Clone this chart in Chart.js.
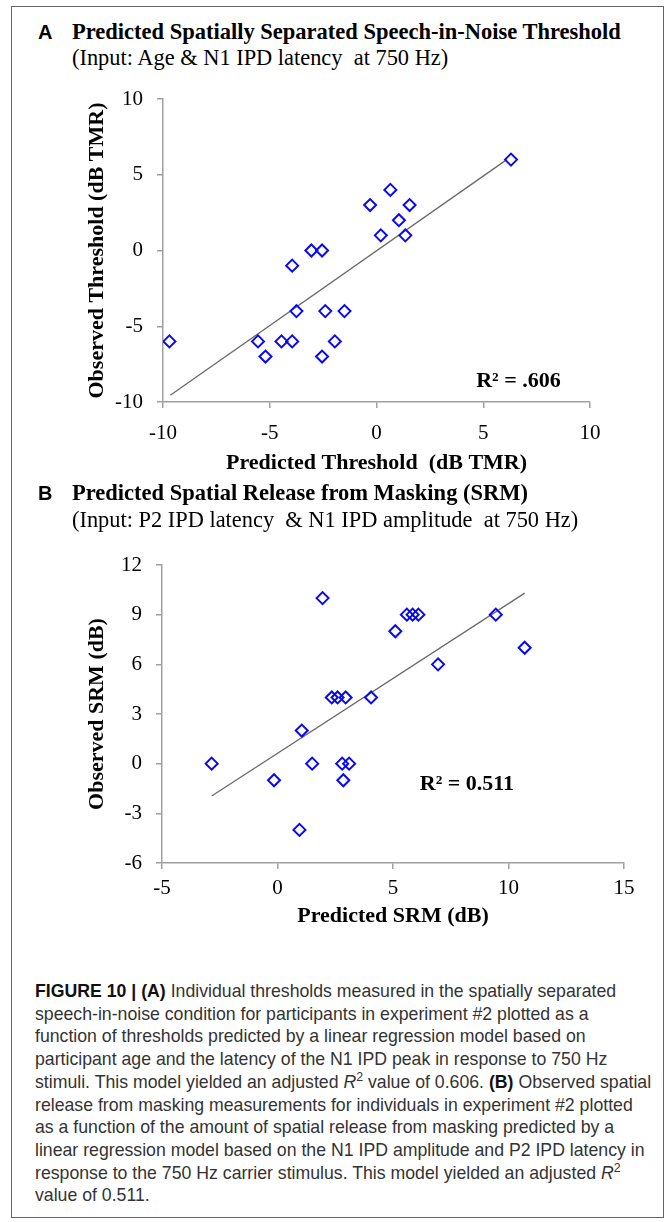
<!DOCTYPE html>
<html>
<head>
<meta charset="utf-8">
<script src="https://cdn.jsdelivr.net/npm/chart.js"></script>
<style>
  body { margin: 0; background: #fff; }
  #page { position: relative; width: 670px; height: 1222px; overflow: hidden; }
  #frame { position: absolute; left: 11px; top: 6px; width: 651px; height: 1210px; border: 1.5px solid #666; }
  .ttl { position: absolute; left: 38px; white-space: nowrap; font: bold 22.5px "Liberation Serif", serif; color: #000; line-height: 26px; }
  .ttl b { font: bold 20px "Liberation Sans", Arial, sans-serif; display: inline-block; width: 34px; }
  .sub { position: absolute; left: 72px; white-space: pre; font: 22.4px "Liberation Serif", serif; color: #000; line-height: 26px; }
  canvas { position: absolute; left: 0; }
  #caption { position: absolute; left: 35px; top: 980px; font: 17.7px "Liberation Sans", Arial, sans-serif; color: #333; line-height: 22.7px; white-space: nowrap; }
  #caption strong { color: #111; }
  #caption sup { font-size: 70%; line-height: 0; }
</style>
</head>
<body>
<div id="page">
  <div id="frame"></div>

  <div class="ttl" style="top:19px"><b>A</b>Predicted Spatially Separated Speech-in-Noise Threshold</div>
  <div class="sub" style="top:45px">(Input: Age &amp; N1 IPD latency  at 750 Hz)</div>
  <canvas id="chartA" width="670" height="420" style="top:70px"></canvas>

  <div class="ttl" style="top:480px"><b>B</b>Predicted Spatial Release from Masking (SRM)</div>
  <div class="sub" style="top:507px">(Input: P2 IPD latency  &amp; N1 IPD amplitude  at 750 Hz)</div>
  <canvas id="chartB" width="670" height="410" style="top:535px"></canvas>

  <div id="caption">
    <strong>FIGURE 10 | (A)</strong> Individual thresholds measured in the spatially separated<br>
    speech-in-noise condition for participants in experiment #2 plotted as a<br>
    function of thresholds predicted by a linear regression model based on<br>
    participant age and the latency of the N1 IPD peak in response to 750 Hz<br>
    stimuli. This model yielded an adjusted <i>R</i><sup>2</sup> value of 0.606. <strong>(B)</strong> Observed spatial<br>
    release from masking measurements for individuals in experiment #2 plotted<br>
    as a function of the amount of spatial release from masking predicted by a<br>
    linear regression model based on the N1 IPD amplitude and P2 IPD latency in<br>
    response to the 750 Hz carrier stimulus. This model yielded an adjusted <i>R</i><sup>2</sup><br>
    value of 0.511.
  </div>
</div>

<script>
// Panel A: predicted vs observed speech-in-noise threshold (dB TMR)
var predA = [-9.7, -5.55, -5.2, -4.45, -3.95, -3.95, -3.75, -3.05, -2.55, -2.55, -2.4, -1.95, -1.5, -0.3, 0.2, 0.65, 1.05, 1.35, 1.55, 6.3];
var obsA  = [-6, -6, -7, -6, -6, -1, -4, 0, 0, -7, -4, -6, -4, 3, 1, 4, 2, 1, 3, 6];
var fitAx = [-9.66, 6.1];
var fitAy = [-9.55, 6.0];
var ticksAx = [-10, 10, 5];
var ticksAy = [-10, 10, 5];

// Panel B: predicted vs observed SRM (dB)
var predB = [-2.85, -0.15, 0.95, 1.05, 1.5, 1.95, 2.35, 2.6, 2.95, 2.8, 3.1, 2.85, 4.05, 5.1, 5.6, 5.85, 6.1, 6.95, 9.45, 10.7];
var obsB  = [0, -1, -4, 2, 0, 10, 4, 4, 4, 0, 0, -1, 4, 8, 9, 9, 9, 6, 9, 7];
var fitBx = [-2.85, 10.7];
var fitBy = [-1.95, 10.3];
var ticksBx = [-5, 15, 5];
var ticksBy = [-6, 12, 3];

var axisGrey = '#a0a0a0';
var serif = '"Liberation Serif", "Times New Roman", serif';

// writes the R² value inside the plot, placed in data units
var r2Label = {
    id: 'r2Label',
    afterDatasetsDraw: function(chart, args, opts) {
        var ctx = chart.ctx;
        ctx.save();
        ctx.font = 'bold 22px ' + serif;
        ctx.fillStyle = '#000';
        ctx.textAlign = 'center';
        ctx.textBaseline = 'middle';
        ctx.fillText(opts.text, chart.scales.x.getPixelForValue(opts.x), chart.scales.y.getPixelForValue(opts.y));
        ctx.restore();
    }
};

function pairs(xs, ys) {
    var out = [];
    for (var i = 0; i < xs.length; i++) out.push({x: xs[i], y: ys[i]});
    return out;
}

function axis(range, title, extra) {
    return {
        type: 'linear',
        min: range[0],
        max: range[1],
        ticks: { stepSize: range[2], color: '#000', font: { family: serif, size: 21 }, padding: extra.pad },
        grid: { drawOnChartArea: false, drawTicks: true, tickLength: 6, color: axisGrey, lineWidth: 1.5 },
        border: { display: true, color: axisGrey, width: 1.5 },
        title: { display: true, text: title, color: '#000', font: { family: serif, size: 22, weight: 'bold' }, padding: { top: 4, bottom: 4 } },
        afterFit: extra.fit
    };
}

function makeChart(id, xs, ys, fx, fy, xr, yr, xTitle, yTitle, r2, lay) {
    return new Chart(document.getElementById(id), {
        type: 'scatter',
        data: {
            datasets: [
                {
                    data: pairs(xs, ys),
                    pointStyle: 'rectRot',
                    pointRadius: 6,
                    pointBorderWidth: 2,
                    borderColor: '#0a0aee',
                    backgroundColor: 'rgba(0,0,0,0)'
                },
                {
                    type: 'line',
                    data: pairs(fx, fy),
                    borderColor: '#6a6a6a',
                    borderWidth: 1.3,
                    pointRadius: 0,
                    fill: false
                }
            ]
        },
        options: {
            responsive: false,
            animation: false,
            events: [],
            layout: { padding: lay.padding },
            plugins: {
                legend: { display: false },
                tooltip: { enabled: false },
                r2Label: r2
            },
            scales: {
                x: axis(xr, xTitle, { pad: lay.xPad, fit: function(s) { s.height = lay.xHeight; } }),
                y: axis(yr, yTitle, { pad: lay.yPad, fit: function(s) { s.width = lay.yWidth; } })
            }
        },
        plugins: [r2Label]
    });
}

makeChart('chartA', predA, obsA, fitAx, fitAy, ticksAx, ticksAy,
    'Predicted Threshold  (dB TMR)', 'Observed Threshold (dB TMR)',
    { text: 'R\u00b2 = .606', x: 6.65, y: -8.65 },
    { padding: { left: 80, right: 80, top: 29, bottom: 9 }, xHeight: 79, yWidth: 83, xPad: 13, yPad: 14 });

makeChart('chartB', predB, obsB, fitBx, fitBy, ticksBx, ticksBy,
    'Predicted SRM (dB)', 'Observed SRM (dB)',
    { text: 'R\u00b2 = 0.511', x: 8.2, y: -1.25 },
    { padding: { left: 80, right: 46, top: 30, bottom: 11 }, xHeight: 71, yWidth: 82, xPad: 7, yPad: 14 });
</script>
</body>
</html>
